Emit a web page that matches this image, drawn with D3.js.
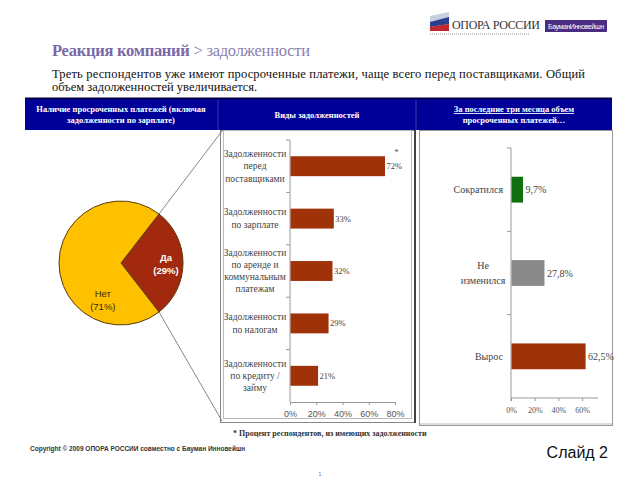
<!DOCTYPE html>
<html>
<head>
<meta charset="utf-8">
<script src="https://cdn.jsdelivr.net/npm/d3@7"></script>
<style>
  body { margin: 0; background: #fff; }
  svg { display: block; }
</style>
</head>
<body>
<svg id="chart" width="640" height="480"></svg>
<script>
// pie: payments overdue
const pieLabels = ['Да', 'Нет'];
const pieValues = [29, 71];

// debt types
const debtTypes = [
  ['Задолженности', 'перед', 'поставщиками'],
  ['Задолженности', 'по зарплате'],
  ['Задолженности', 'по аренде и', 'коммунальным', 'платежам'],
  ['Задолженности', 'по налогам'],
  ['Задолженности', 'по кредиту /', 'займу']
];
const debtValues = [72, 33, 32, 29, 21];
const debtTicks = [0, 20, 40, 60, 80];

// change over last three months
const trendCats = [['Сократился'], ['Не', 'изменился'], ['Вырос']];
const trendValues = [9.7, 27.8, 62.5];
const trendColors = ['#107010', '#8a8a8a', '#a0320a'];
const trendTicks = [0, 20, 40, 60];

const SERIF = "'Liberation Serif', 'Times New Roman', 'DejaVu Serif', serif";
const SANS = "'Liberation Sans', Arial, sans-serif";

const svg = d3.select('#chart');

// ---- logo ----
const logo = svg.append('g');
logo.append('path')
    .attr('d', 'M430,16 L449,12 L449,31 L430,31 Z')
    .attr('fill', '#c8d0e0');
logo.append('path')
    .attr('d', 'M430,22 L449,17 L449,24 L430,27 Z')
    .attr('fill', '#2a3f8f');
logo.append('path')
    .attr('d', 'M430,27 L449,24 L449,31 L430,31 Z')
    .attr('fill', '#c0282d');
logo.append('text')
    .attr('font-family', SERIF)
    .attr('x', 452).attr('y', 29)
    .attr('font-size', 12)
    .attr('textLength', 88)
    .attr('fill', '#333')
    .text('ОПОРА РОССИИ');
logo.append('line')
    .attr('x1', 430).attr('x2', 530).attr('y1', 34).attr('y2', 34)
    .attr('stroke', '#bbb').attr('stroke-width', 1.5).attr('stroke-dasharray', '1 1');
logo.append('rect')
    .attr('x', 545).attr('y', 20).attr('width', 62).attr('height', 12)
    .attr('fill', '#4a2c82');
logo.append('text')
    .attr('font-family', SANS)
    .attr('x', 576).attr('y', 29)
    .attr('text-anchor', 'middle')
    .attr('font-size', 7)
    .attr('textLength', 56)
    .attr('fill', '#fff')
    .text('БауманИнновейшн');

// ---- title ----
const title = svg.append('text')
    .attr('font-family', SERIF)
    .attr('x', 52).attr('y', 56)
    .attr('font-size', 16.5)
    .attr('textLength', 258);
title.append('tspan').attr('fill', '#7a68a6').attr('font-weight', 'bold').text('Реакция компаний');
title.append('tspan').attr('fill', '#8c7fb2').text(' > задолженности');

svg.append('text')
    .attr('font-family', SERIF)
    .attr('x', 52).attr('y', 78)
    .attr('font-size', 12.5)
    .attr('textLength', 533)
    .attr('fill', '#111')
    .text('Треть респондентов уже имеют просроченные платежи, чаще всего перед поставщиками. Общий');
svg.append('text')
    .attr('font-family', SERIF)
    .attr('x', 52).attr('y', 91)
    .attr('font-size', 12.5)
    .attr('fill', '#111')
    .text('объем задолженностей увеличивается.');

// ---- header bar ----
svg.append('rect')
    .attr('x', 25).attr('y', 98).attr('width', 587).attr('height', 32)
    .attr('fill', '#000099');
svg.append('line')
    .attr('x1', 25).attr('x2', 612).attr('y1', 98.5).attr('y2', 98.5)
    .attr('stroke', '#000044').attr('stroke-width', 2);
[218, 416].forEach(x => {
  svg.append('line')
      .attr('x1', x).attr('x2', x).attr('y1', 100).attr('y2', 130)
      .attr('stroke', '#3a3ab0').attr('stroke-width', 1);
});
const headers = [
  {x: 121, lines: ['Наличие просроченных платежей (включая', 'задолженности по зарплате)']},
  {x: 317, lines: ['Виды задолженностей']},
  {x: 514, lines: ['За последние три месяца объем', 'просроченных платежей…'], underline: true}
];
headers.forEach(h => {
  const y0 = h.lines.length === 1 ? 118 : 112;
  h.lines.forEach((l, i) => {
    svg.append('text')
        .attr('font-family', SERIF)
        .attr('x', h.x).attr('y', y0 + i * 11)
        .attr('text-anchor', 'middle')
        .attr('font-size', 8.5)
        .attr('font-weight', 'bold')
        .attr('fill', '#fff')
        .attr('text-decoration', h.underline && i === 0 ? 'underline' : null)
        .text(l);
  });
});

// ---- boxes ----
svg.append('rect')
    .attr('x', 220.5).attr('y', 130.5).attr('width', 194).attr('height', 292)
    .attr('fill', 'none').attr('stroke', '#888').attr('stroke-width', 1);
svg.append('rect')
    .attr('x', 223.5).attr('y', 130.5).attr('width', 188).attr('height', 288)
    .attr('fill', 'none').attr('stroke', '#bbb').attr('stroke-width', 1);
svg.append('line')
    .attr('x1', 415).attr('x2', 415).attr('y1', 130).attr('y2', 423)
    .attr('stroke', '#444').attr('stroke-width', 2);
svg.append('rect')
    .attr('x', 419.5).attr('y', 130.5).attr('width', 193).attr('height', 295)
    .attr('fill', 'none').attr('stroke', '#999').attr('stroke-width', 1);
svg.append('line')
    .attr('x1', 420).attr('x2', 612).attr('y1', 424).attr('y2', 424)
    .attr('stroke', '#bbb').attr('stroke-width', 1);

// ---- pie ----
const cx = 121, cy = 263, r = 62;
const daShare = pieValues[0] / d3.sum(pieValues) * 2 * Math.PI;
const a0 = Math.PI / 2 - daShare / 2;
const pie = d3.pie().sort(null).startAngle(a0).endAngle(a0 + 2 * Math.PI);
const arc = d3.arc().innerRadius(0).outerRadius(r);
const arcs = pie(pieValues);
const pieG = svg.append('g').attr('transform', `translate(${cx},${cy})`);
const pieColors = ['#a3290e', '#ffc000'];
pieG.selectAll('path')
    .data(arcs)
  .join('path')
    .attr('d', arc)
    .attr('fill', (d, i) => pieColors[i])
    .attr('stroke', '#5a3a10')
    .attr('stroke-width', 1);

// label positions
const labelPos = [
  d3.pointRadial(Math.PI / 2, 45),
  d3.pointRadial(Math.PI * 1.15, 40)
];
arcs.forEach((d, i) => {
  const [lx, ly] = labelPos[i];
  const t = pieG.append('text')
      .attr('font-family', SANS)
      .attr('text-anchor', 'middle')
      .attr('font-size', 9.5)
      .attr('font-weight', i === 0 ? 'bold' : 'normal')
      .attr('fill', i === 0 ? '#fff' : '#3a2a00');
  t.append('tspan').attr('x', lx).attr('y', ly - 2).text(pieLabels[i]);
  t.append('tspan').attr('x', lx).attr('y', ly + 11).text(`(${pieValues[i]}%)`);
});

// connector lines from Да slice to the middle box
const pTop = d3.pointRadial(arcs[0].startAngle, r);
const pBot = d3.pointRadial(arcs[0].endAngle, r);
svg.append('line')
    .attr('x1', cx + pTop[0]).attr('y1', cy + pTop[1])
    .attr('x2', 222).attr('y2', 131)
    .attr('stroke', '#666').attr('stroke-width', 0.8);
svg.append('line')
    .attr('x1', cx + pBot[0]).attr('y1', cy + pBot[1])
    .attr('x2', 222).attr('y2', 421)
    .attr('stroke', '#666').attr('stroke-width', 0.8);

// ---- debt types bar chart ----
const x1 = d3.scaleLinear().domain([0, 80]).range([290, 395]);
const y1 = d3.scaleBand()
    .domain(d3.range(debtValues.length))
    .range([140, 402])
    .paddingInner(0.62)
    .paddingOuter(0.31);

const g1 = svg.append('g');
g1.append('g')
    .attr('transform', 'translate(0,402)')
    .call(d3.axisBottom(x1).tickValues(debtTicks).tickSize(3).tickPadding(6).tickFormat(d => d + '%'))
    .call(g => g.selectAll('line, path').attr('stroke', '#999'))
    .call(g => g.selectAll('text').attr('font-family', SANS).attr('font-size', 9).attr('fill', '#555'));
g1.append('line')
    .attr('x1', 290).attr('x2', 290).attr('y1', 140).attr('y2', 402)
    .attr('stroke', '#999');
const gap1 = (y1.step() - y1.bandwidth()) / 2;
g1.selectAll('.ctick')
    .data(d3.range(debtValues.length))
  .join('line')
    .attr('class', 'ctick')
    .attr('x1', 286).attr('x2', 290)
    .attr('y1', d => y1(d) - gap1).attr('y2', d => y1(d) - gap1)
    .attr('stroke', '#999');

g1.selectAll('.bar')
    .data(debtValues)
  .join('rect')
    .attr('class', 'bar')
    .attr('x', x1(0) + 0.5)
    .attr('y', (d, i) => y1(i))
    .attr('width', d => x1(d) - x1(0))
    .attr('height', y1.bandwidth())
    .attr('fill', '#a0320a');

g1.selectAll('.val')
    .data(debtValues)
  .join('text')
    .attr('class', 'val')
    .attr('font-family', SERIF)
    .attr('x', d => x1(d) + 2)
    .attr('y', (d, i) => y1(i) + y1.bandwidth() / 2 + 3)
    .attr('font-size', 8.5)
    .attr('fill', '#444')
    .text(d => d + '%');
g1.append('text')
    .attr('font-family', SERIF)
    .attr('x', x1(debtValues[0]) + 10)
    .attr('y', y1(0) - 1)
    .attr('font-size', 8)
    .attr('fill', '#444')
    .text('*');

debtTypes.forEach((lines, i) => {
  const mid = y1(i) + y1.bandwidth() / 2;
  const lh = 12.3;
  const top = mid - (lines.length - 1) * lh / 2 + 3;
  lines.forEach((l, k) => {
    g1.append('text')
        .attr('font-family', SERIF)
        .attr('x', 255)
        .attr('y', top + k * lh)
        .attr('text-anchor', 'middle')
        .attr('font-size', 9.5)
        .attr('fill', '#444')
        .text(l);
  });
});

// ---- trend bar chart ----
const x2 = d3.scaleLinear().domain([0, 70]).range([511, 594]);
const y2 = d3.scaleBand()
    .domain(d3.range(trendValues.length))
    .range([148, 398])
    .paddingInner(0.69)
    .paddingOuter(0.345);

const g2 = svg.append('g');
g2.append('g')
    .attr('transform', 'translate(0,398)')
    .call(d3.axisBottom(x2).tickValues(trendTicks).tickSize(3).tickPadding(6).tickFormat(d => d + '%'))
    .call(g => g.select('.domain').attr('d', 'M511,3V0H598'))
    .call(g => g.selectAll('line, path').attr('stroke', '#999'))
    .call(g => g.selectAll('text').attr('font-family', SERIF).attr('font-size', 8).attr('fill', '#555'));
g2.append('line')
    .attr('x1', 511).attr('x2', 511).attr('y1', 148).attr('y2', 398)
    .attr('stroke', '#999');
const gap2 = (y2.step() - y2.bandwidth()) / 2;
g2.selectAll('.ctick')
    .data(d3.range(trendValues.length))
  .join('line')
    .attr('class', 'ctick')
    .attr('x1', 507).attr('x2', 511)
    .attr('y1', d => y2(d) - gap2).attr('y2', d => y2(d) - gap2)
    .attr('stroke', '#999');

g2.selectAll('.bar')
    .data(trendValues)
  .join('rect')
    .attr('class', 'bar')
    .attr('x', x2(0) + 0.5)
    .attr('y', (d, i) => y2(i))
    .attr('width', d => x2(d) - x2(0))
    .attr('height', y2.bandwidth())
    .attr('fill', (d, i) => trendColors[i]);

g2.selectAll('.val')
    .data(trendValues)
  .join('text')
    .attr('class', 'val')
    .attr('font-family', SERIF)
    .attr('x', d => x2(d) + 3)
    .attr('y', (d, i) => y2(i) + y2.bandwidth() / 2 + 3.5)
    .attr('font-size', 10)
    .attr('fill', '#444')
    .text(d => d3.format('.1f')(d).replace('.', ',') + '%');

trendCats.forEach((lines, i) => {
  const mid = y2(i) + y2.bandwidth() / 2;
  const lh = 15;
  const top = mid - (lines.length - 1) * lh / 2 + 3.5;
  lines.forEach((l, k) => {
    g2.append('text')
        .attr('font-family', SERIF)
        .attr('x', lines.length > 1 ? 483 : 503)
        .attr('y', top + k * lh)
        .attr('text-anchor', lines.length > 1 ? 'middle' : 'end')
        .attr('font-size', 10)
        .attr('fill', '#444')
        .text(l);
  });
});

// ---- footer ----
svg.append('text')
    .attr('font-family', SERIF)
    .attr('x', 233).attr('y', 436)
    .attr('font-size', 8)
    .attr('font-weight', 'bold')
    .attr('fill', '#333')
    .text('* Процент респондентов, из имеющих задолженности');
svg.append('text')
    .attr('font-family', SANS)
    .attr('x', 30).attr('y', 451)
    .attr('font-size', 6.5)
    .attr('font-weight', 'bold')
    .attr('fill', '#333')
    .text('Copyright © 2009  ОПОРА РОССИИ совместно с Бауман Инновейшн');
svg.append('text')
    .attr('font-family', SANS)
    .attr('x', 608).attr('y', 458)
    .attr('text-anchor', 'end')
    .attr('font-size', 16)
    .attr('fill', '#111')
    .text('Слайд 2');
svg.append('text')
    .attr('font-family', SANS)
    .attr('x', 320).attr('y', 476)
    .attr('text-anchor', 'middle')
    .attr('font-size', 5)
    .attr('fill', '#666')
    .text('1');
</script>
</body>
</html>
